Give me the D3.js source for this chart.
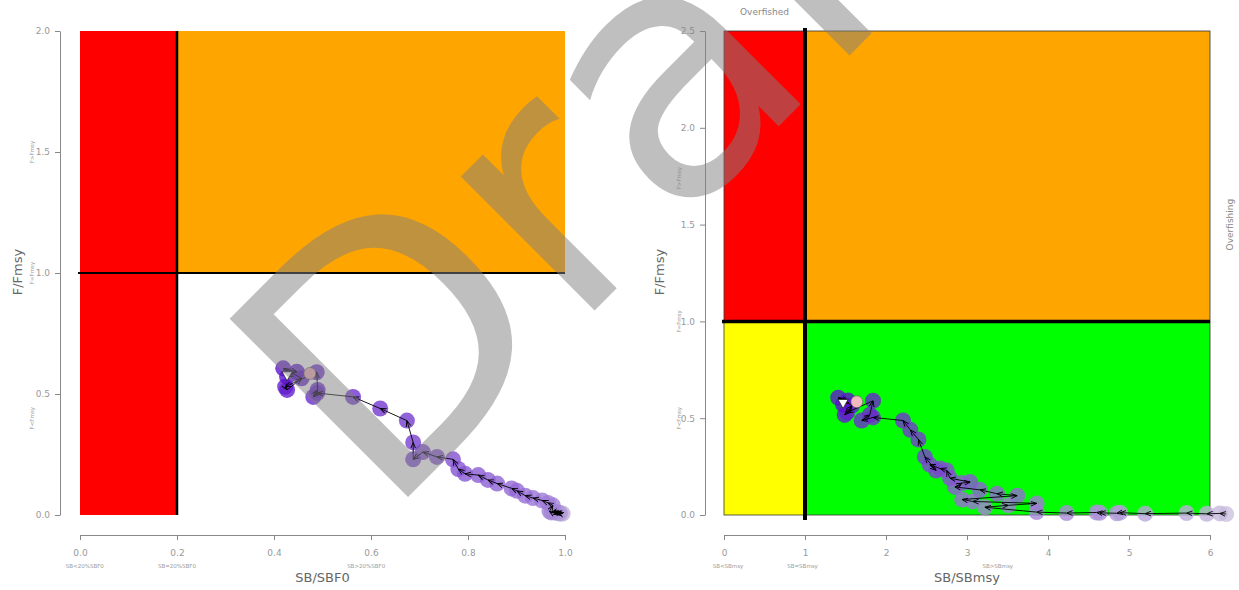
<!DOCTYPE html>
<html><head><meta charset="utf-8">
<script src="https://cdn.jsdelivr.net/npm/d3@7"></script>
<style>body{margin:0;background:#fff}svg{display:block}</style>
</head><body>
<svg id="c" width="1239" height="590"></svg>
<script>
// ---- data, earliest year first ----
const fRatio = [0.005,0.008,0.006,0.010,0.007,0.012,0.009,0.011,0.013,0.010,0.015,
  0.040,0.050,0.060,0.070,0.080,0.100,0.110,0.130,0.145,0.165,0.170,0.190,0.230,0.240,0.260,0.230,0.300,0.390,
  0.440,0.488,0.504,0.488,0.517,0.590,0.530,0.517,0.565,0.606,0.592,0.571];
const sbF0 = [0.990,0.985,0.995,0.980,0.990,0.975,0.988,0.982,0.978,0.972,0.968,
  0.975,0.965,0.953,0.934,0.918,0.901,0.890,0.860,0.841,0.821,0.794,0.780,0.769,0.736,0.707,0.687,0.687,0.674,
  0.619,0.563,0.489,0.481,0.490,0.488,0.423,0.427,0.457,0.419,0.447,0.427];
const sbMsy = [6.20,6.12,5.96,5.71,5.20,4.89,4.85,4.64,4.60,4.23,3.86,
  3.22,3.51,3.86,3.07,2.94,3.62,3.37,3.16,2.85,2.94,3.04,2.79,2.75,2.67,2.54,2.62,2.48,2.40,
  2.30,2.21,1.84,1.70,1.80,1.84,1.52,1.49,1.58,1.41,1.53,1.47];
const pinkLeft = [0.474, 0.585];
const pinkRight = [1.64, 0.585];

const xTicksLeft = [0,0.2,0.4,0.6,0.8,1.0];
const yTicksLeft = [0,0.5,1.0,1.5,2.0];
const xTicksRight = [0,1,2,3,4,5,6];
const yTicksRight = [0,0.5,1.0,1.5,2.0,2.5];
const xSubLeft = [["SB<20%SBF0",0.01],["SB=20%SBF0",0.2],["SB>20%SBF0",0.59]];
const xSubRight = [["SB<SBmsy",0.05],["SB=SBmsy",0.97],["SB>SBmsy",3.38]];
const ySubLeft = [["F>Fmsy",1.5],["F=Fmsy",1.0],["F<Fmsy",0.4]];
const ySubRight = [["F>Fmsy",1.74],["F=Fmsy",1.0],["F<Fmsy",0.5]];

const svg = d3.select("#c");
const FONT = "DejaVu Sans, sans-serif";
const defs = svg.append("defs");
defs.append("marker").attr("id","arr").attr("viewBox","0 0 10 10").attr("refX",10).attr("refY",5)
  .attr("markerWidth",6).attr("markerHeight",6).attr("markerUnits","userSpaceOnUse").attr("orient","auto")
  .append("path").attr("d","M0,1 L10,5 L0,9").attr("fill","none").attr("stroke","#000").attr("stroke-width",1.5);

const col = t => d3.interpolateRgb("#cbc2dd","#5a10cc")(Math.pow(t,0.8));
const n = fRatio.length;

function panel(cfg){
  const g = svg.append("g");
  const x = d3.scaleLinear().domain(cfg.xd).range(cfg.xr);
  const y = d3.scaleLinear().domain(cfg.yd).range([515,31]);
  // zones
  cfg.zones.forEach(z=>{
    g.append("rect").attr("x",x(z[0])).attr("y",y(z[3])).attr("width",x(z[1])-x(z[0])).attr("height",y(z[2])-y(z[3]))
      .attr("fill",z[4]).attr("stroke",cfg.border?"#333":"none").attr("stroke-width",0.8);
  });
  // reference lines
  g.append("line").attr("x1",x(cfg.vref)).attr("x2",x(cfg.vref)).attr("y1",y(cfg.yd[0])+(cfg.border?5:0)).attr("y2",y(cfg.yd[1])-(cfg.border?3:0))
    .attr("stroke","#000").attr("stroke-width",cfg.lw);
  g.append("line").attr("x1",x(cfg.xd[0])-2).attr("x2",x(cfg.hrefEnd)).attr("y1",y(1)).attr("y2",y(1))
    .attr("stroke","#000").attr("stroke-width",cfg.lw-0.5);
  // axes
  const ax = g.append("g").attr("transform",`translate(0,535)`)
    .call(d3.axisBottom(x).tickValues(cfg.xt).tickFormat(cfg.xf).tickSize(5).tickPadding(9.5).tickSizeOuter(0));
  const ay = g.append("g").attr("transform",`translate(${cfg.yAxisX},0)`)
    .call(d3.axisLeft(y).tickValues(cfg.yt).tickFormat(d3.format(".1f")).tickSize(5).tickPadding(5).tickSizeOuter(0));
  [ax,ay].forEach(a=>{
    a.select(".domain").attr("stroke","#888");
    a.selectAll(".tick line").attr("stroke","#888");
    a.selectAll(".tick text").attr("fill","#999").attr("font-size",9).attr("font-family",FONT);
  });
  // sub labels
  cfg.xsub.forEach(s=>g.append("text").attr("x",x(s[1])).attr("y",568).attr("text-anchor","middle")
    .attr("font-size",5.5).attr("fill","#999").attr("font-family",FONT).text(s[0]));
  cfg.ysub.forEach(s=>g.append("text").attr("transform",`translate(${cfg.ySubX},${y(s[1])}) rotate(-90)`).attr("text-anchor","middle")
    .attr("font-size",5.5).attr("fill","#999").attr("font-family",FONT).text(s[0]));
  g.append("text").attr("x",(cfg.xr[0]+cfg.xr[1])/2).attr("y",582).attr("text-anchor","middle")
    .attr("font-size",13).attr("fill","#666").attr("font-family",FONT).text(cfg.xtitle);
  g.append("text").attr("transform",`translate(${cfg.yTitleX},272) rotate(-90)`).attr("text-anchor","middle")
    .attr("font-size",13).attr("fill","#666").attr("font-family",FONT).text("F/Fmsy");
  // trajectory
  const pts = cfg.xs.map((v,i)=>[x(v),y(fRatio[i])]);
  g.selectAll("circle.p").data(pts).join("circle").attr("class","p")
    .attr("cx",d=>d[0]).attr("cy",d=>d[1]).attr("r",8)
    .attr("fill",(d,i)=>col(i/(n-1))).attr("fill-opacity",0.8);
  for(let i=0;i<n-1;i++){
    g.append("line").attr("x1",pts[i][0]).attr("y1",pts[i][1]).attr("x2",pts[i+1][0]).attr("y2",pts[i+1][1])
      .attr("stroke","#000").attr("stroke-width",0.9).attr("marker-end","url(#arr)");
  }
  g.append("circle").attr("cx",x(cfg.pink[0])).attr("cy",y(cfg.pink[1])).attr("r",6)
    .attr("fill","#f4b8c0").attr("stroke","#555").attr("stroke-width",0.6);
  const last = pts[n-1];
  g.append("path").attr("d",`M${last[0]-5},${last[1]-5} L${last[0]+5},${last[1]-5} L${last[0]},${last[1]+4} Z`)
    .attr("fill","#fff").attr("stroke","#222").attr("stroke-width",0.8);
  return {g,x,y};
}

panel({xd:[0,1],xr:[80,565],yd:[0,2],xt:xTicksLeft,yt:yTicksLeft,xf:d3.format(".1f"),
  zones:[[0,0.2,0,2,"#ff0000"],[0.2,1,1,2,"#ffa500"]],border:false,vref:0.2,hrefEnd:1,lw:2.5,
  yAxisX:60,xsub:xSubLeft,ysub:ySubLeft,ySubX:34,xtitle:"SB/SBF0",yTitleX:22,xs:sbF0,pink:pinkLeft});

const R = panel({xd:[0,6],xr:[724,1210],yd:[0,2.5],xt:xTicksRight,yt:yTicksRight,xf:d3.format("d"),
  zones:[[0,1,1,2.5,"#ff0000"],[1,6,1,2.5,"#ffa500"],[0,1,0,1,"#ffff00"],[1,6,0,1,"#00ff00"]],border:true,vref:1,hrefEnd:6,lw:4,
  yAxisX:705,xsub:xSubRight,ysub:ySubRight,ySubX:681,xtitle:"SB/SBmsy",yTitleX:664,xs:sbMsy,pink:pinkRight});

svg.append("text").attr("x",R.x(0.5)).attr("y",15).attr("text-anchor","middle").attr("font-size",9)
  .attr("fill","#888").attr("font-family",FONT).text("Overfished");
svg.append("text").attr("transform",`translate(1233,${R.y(1.5)}) rotate(-90)`).attr("text-anchor","middle").attr("font-size",9)
  .attr("fill","#888").attr("font-family",FONT).text("Overfishing");

// watermark
svg.append("text").attr("transform","translate(384,521) rotate(-45)").attr("font-size",346)
  .attr("font-family",FONT).attr("fill","#808080").attr("fill-opacity",0.5).text("Draft");
</script>
</body></html>
